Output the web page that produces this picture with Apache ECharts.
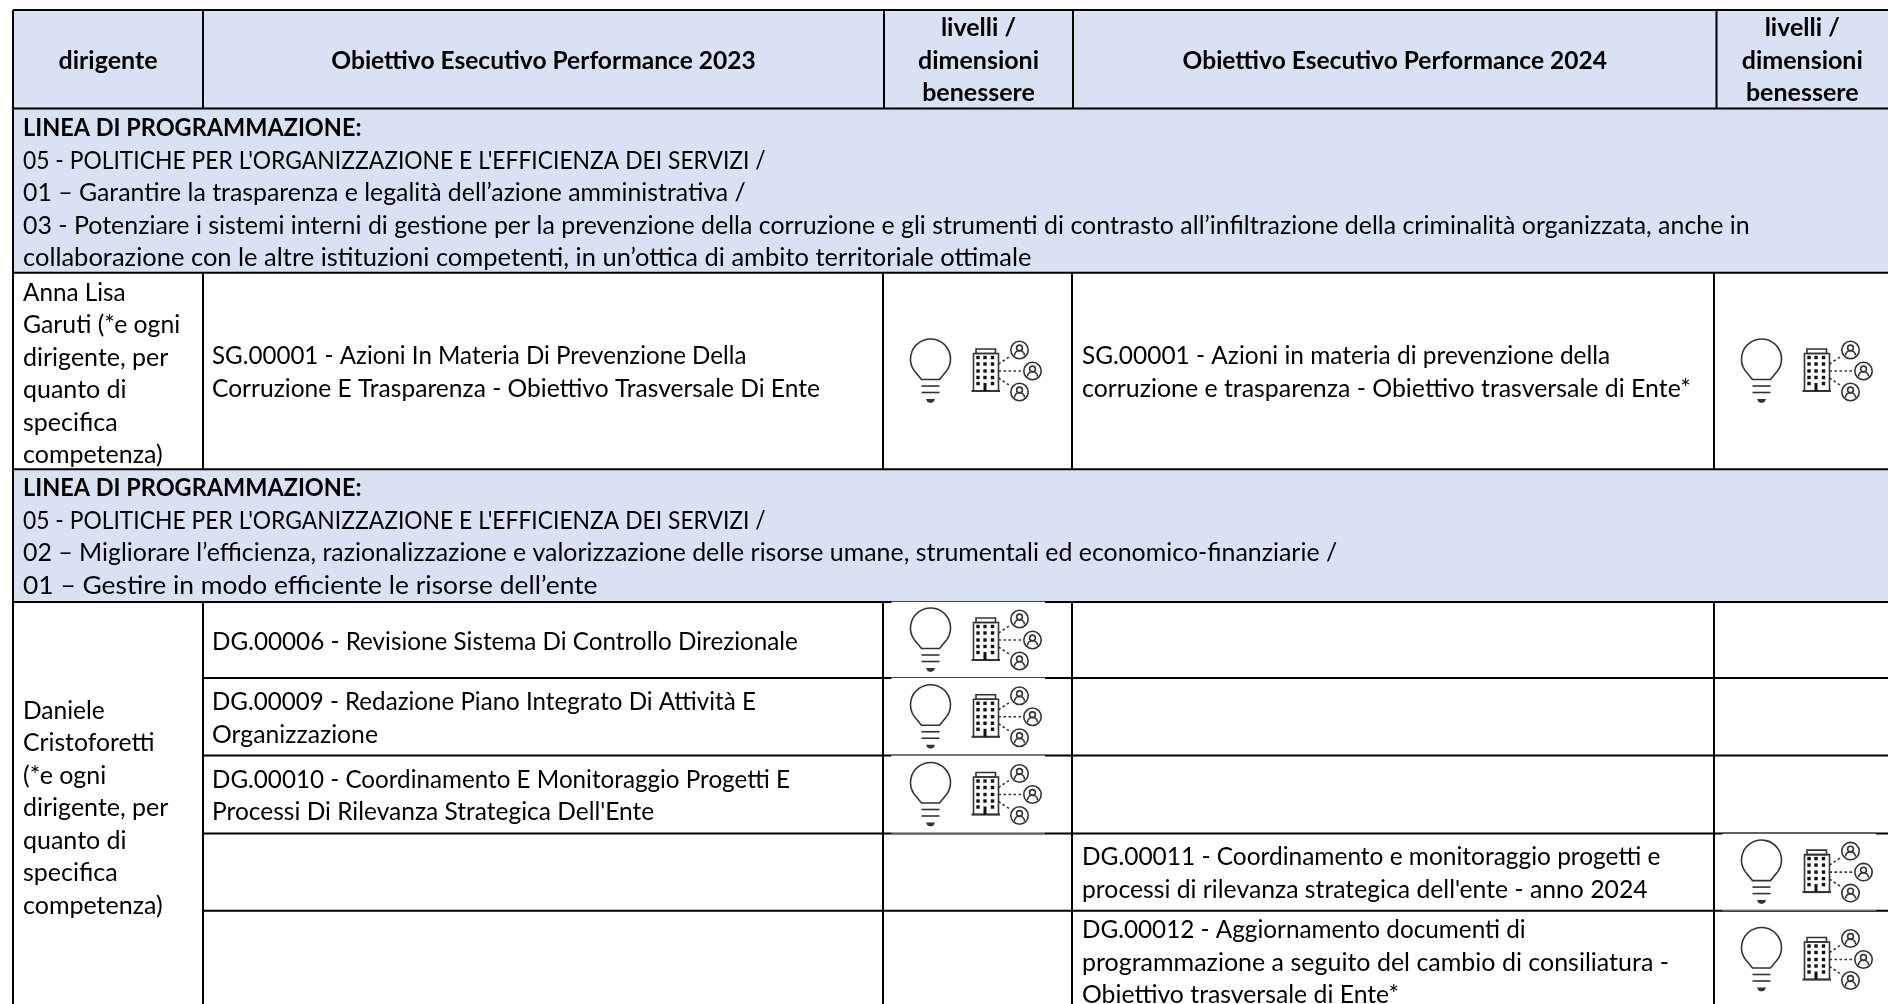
<!DOCTYPE html>
<html>
<head>
<meta charset="utf-8">
<title>Obiettivi Esecutivi Performance</title>
<style>
  html, body { margin: 0; padding: 0; background: #fff; }
  #chart { width: 1888px; height: 1004px; }
</style>
<script src="https://cdn.jsdelivr.net/npm/echarts@6/dist/echarts.min.js"></script>
</head>
<body>
<div id="chart"></div>
<script>
// Table content
const headerLabels = [
  'dirigente',
  'Obiettivo Esecutivo Performance 2023',
  'livelli /\ndimensioni\nbenessere',
  'Obiettivo Esecutivo Performance 2024',
  'livelli /\ndimensioni\nbenessere'
]
const sectionTitle = 'LINEA DI PROGRAMMAZIONE:'
const lineaProgrammazione1 = [
  "05 - POLITICHE PER L'ORGANIZZAZIONE E L'EFFICIENZA DEI SERVIZI /",
  '01 – Garantire la trasparenza e legalità dell’azione amministrativa /',
  '03 - Potenziare i sistemi interni di gestione per la prevenzione della corruzione e gli strumenti di contrasto all’infiltrazione della criminalità organizzata, anche in',
  'collaborazione con le altre istituzioni competenti, in un’ottica di ambito territoriale ottimale'
]
const lineaProgrammazione2 = [
  "05 - POLITICHE PER L'ORGANIZZAZIONE E L'EFFICIENZA DEI SERVIZI /",
  '02 – Migliorare l’efficienza, razionalizzazione e valorizzazione delle risorse umane, strumentali ed economico-finanziarie /',
  '01 – Gestire in modo efficiente le risorse dell’ente'
]
const dirigenti = [
  'Anna Lisa\nGaruti (*e ogni\ndirigente, per\nquanto di\nspecifica\ncompetenza)',
  'Daniele\nCristoforetti\n(*e ogni\ndirigente, per\nquanto di\nspecifica\ncompetenza)'
]
const obiettivi2023 = [
  'SG.00001 - Azioni In Materia Di Prevenzione Della\nCorruzione E Trasparenza - Obiettivo Trasversale Di Ente',
  'DG.00006 - Revisione Sistema Di Controllo Direzionale',
  'DG.00009 - Redazione Piano Integrato Di Attività E\nOrganizzazione',
  "DG.00010 - Coordinamento E Monitoraggio Progetti E\nProcessi Di Rilevanza Strategica Dell'Ente",
  '',
  ''
]
const obiettivi2024 = [
  'SG.00001 - Azioni in materia di prevenzione della\ncorruzione e trasparenza - Obiettivo trasversale di Ente*',
  '',
  '',
  '',
  "DG.00011 - Coordinamento e monitoraggio progetti e\nprocessi di rilevanza strategica dell'ente - anno 2024",
  'DG.00012 - Aggiornamento documenti di\nprogrammazione a seguito del cambio di consiliatura -\nObiettivo trasversale di Ente*'
]
const livelli2023 = [1, 1, 1, 1, 0, 0]
const livelli2024 = [1, 0, 0, 0, 1, 1]

// Table layout, in axis units
const headerCols = [13, 203, 884, 1073, 1716.5, 1890]
const bodyCols = [13, 203, 883, 1072, 1714, 1890]
const tableTop = 10
const headerBottom = 108.5
const band1Bottom = 272.7
const row1Bottom = 469.3
const band2Bottom = 602
const rowEdges = [602, 678, 755.5, 833.5, 910.7, 1012]
const lineStep = 32.5
const fontSize = 25

const ink = '#000'
const bandFill = '#d9e2f3'
const iconInk = '#333'
const fontFamily = 'Lato, sans-serif'

const rowSpans = [[band1Bottom, row1Bottom]]
for (let i = 0; i < rowEdges.length - 1; i++) rowSpans.push([rowEdges[i], rowEdges[i + 1]])

const fills = [
  [headerCols[0], tableTop, 1890, headerBottom],
  [headerCols[0], headerBottom, 1890, band1Bottom],
  [headerCols[0], row1Bottom, 1890, band2Bottom]
]

const borders = []
const hLine = (y, x0, x1) => borders.push([x0, y, x1, y])
const vLine = (x, y0, y1) => borders.push([x, y0, x, y1])
hLine(tableTop, 13, 1890)
hLine(headerBottom, 13, 1890)
hLine(band1Bottom, 13, 1890)
hLine(row1Bottom, 13, 1890)
hLine(band2Bottom, 13, 1890)
rowEdges.slice(1, -1).forEach(y => hLine(y, 203, 1890))
vLine(13, tableTop, 1012)
headerCols.slice(1, 5).forEach(x => vLine(x, tableTop, headerBottom))
bodyCols.slice(1, 5).forEach(x => {
  vLine(x, band1Bottom, row1Bottom)
  vLine(x, band2Bottom, 1012)
})

// Text blocks: x anchor, y of the first line or of the block middle
const texts = []
const block = (text, x, y, opts) => {
  if (text) texts.push(Object.assign({ text, x, y, align: 'left', bold: false, middle: false }, opts))
}
headerLabels.forEach((label, i) => {
  block(label, (headerCols[i] + headerCols[i + 1]) / 2 - (i === 4 ? 1 : 0), (tableTop + headerBottom) / 2 + 1.5, { align: 'center', bold: true, middle: true })
})
block(sectionTitle, 23, headerBottom + 19.5, { bold: true })
block(lineaProgrammazione1.join('\n'), 23, headerBottom + 19.5 + lineStep)
block(sectionTitle, 23, row1Bottom + 19, { bold: true })
block(lineaProgrammazione2.join('\n'), 23, row1Bottom + 19 + lineStep)
block(dirigenti[0], 23, band1Bottom + 20)
block(dirigenti[1], 23, (band2Bottom + 1014) / 2, { middle: true })
rowSpans.forEach((span, i) => {
  const mid = (span[0] + span[1]) / 2 + 1.5
  block(obiettivi2023[i], 212, mid, { middle: true })
  block(obiettivi2024[i], 1082, mid, { middle: true })
})

// Lato ligatures run short on these two lines
const ligatureStretch = {
  [lineaProgrammazione1[3]]: 1.02,
  [lineaProgrammazione2[2]]: 1.065
}

// Lato has wider capitals and digits than the reference face, so those lines get squeezed
function lineScale(line, bold) {
  let wide = 0
  let total = 0
  for (const ch of line) {
    if (/[A-Z0-9]/.test(ch)) { wide += 0.65; total += 0.65 }
    else if (ch === ' ') total += 0.2
    else total += 0.45
  }
  return (1 - (bold ? 0.065 : 0.095) * wide / total) * (ligatureStretch[line] || 1)
}

// Icon pairs sit 47px into the column; short rows get a white picture box over the rule
const icons = []
const tiles = []
const addIcons = (flags, colX) => {
  flags.forEach((on, i) => {
    if (!on) return
    const span = rowSpans[i]
    const tall = span[1] - span[0] > 90
    const mid = i === 5 ? 959.5 : (span[0] + span[1]) / 2
    icons.push([colX + 47.5, mid])
    if (!tall) tiles.push([colX + 8.5, span[0], colX + 162, span[1]])
  })
}
addIcons(livelli2023, bodyCols[2])
addIcons(livelli2024, bodyCols[4])

const deg = d => d * Math.PI / 180

function iconChildren() {
  const stroke = { stroke: iconInk, fill: null, lineWidth: 1.6 }
  const solid = { fill: '#111', stroke: null }
  const kids = []
  const seg = (x1, y1, x2, y2, style) => kids.push({ type: 'line', shape: { x1, y1, x2, y2 }, style: Object.assign({}, stroke, style) })
  // bulb
  kids.push({ type: 'arc', shape: { cx: 0, cy: -12, r: 20, startAngle: deg(145), endAngle: deg(35), clockwise: true }, style: stroke })
  kids.push({ type: 'polyline', shape: { points: [[-16.4, -0.5], [-9, 8.5], [9, 8.5], [16.4, -0.5]] }, style: stroke })
  seg(-9, 15, 9, 15)
  seg(-9, 21.5, 9, 21.5)
  kids.push({ type: 'polygon', shape: { points: [[-4.5, 28], [4.5, 28], [3, 31], [0, 32], [-3, 31]] }, style: { fill: iconInk, stroke: null } })
  // building
  kids.push({ type: 'rect', shape: { x: 43, y: -17.5, width: 25, height: 37.5 }, style: stroke })
  kids.push({ type: 'rect', shape: { x: 45.5, y: -22, width: 19.5, height: 4.5 }, style: stroke })
  seg(41, 20, 69.5, 20, { lineWidth: 2 })
  const winX = [47.5, 54.5, 62]
  const winY = [-13.5, -7, 0, 6.5, 12.5]
  winY.forEach((wy, r) => winX.forEach((wx, c) => {
    if (r === 4 && c === 1) return
    kids.push({ type: 'rect', shape: { x: wx - 1.7, y: wy - 1.7, width: 3.4, height: 3.4 }, style: solid })
  }))
  kids.push({ type: 'rect', shape: { x: 53, y: 12, width: 3, height: 8 }, style: solid })
  // dotted links
  const dots = { lineDash: [2.5, 2.5] }
  seg(68, -7, 80, -15, dots)
  seg(68, 0, 93, 0, dots)
  seg(68, 7, 80, 15, dots)
  // people
  ;[[89, -21], [102, 0], [89, 21]].forEach(p => {
    kids.push({ type: 'circle', shape: { cx: p[0], cy: p[1], r: 8.7 }, style: stroke })
    kids.push({ type: 'circle', shape: { cx: p[0], cy: p[1] - 2, r: 2.9 }, style: stroke })
    kids.push({ type: 'arc', shape: { cx: p[0], cy: p[1] + 5.5, r: 5, startAngle: deg(180), endAngle: deg(0), clockwise: true }, style: stroke })
  })
  return kids
}

function customSeries(name, items, draw) {
  return {
    name,
    type: 'custom',
    coordinateSystem: 'cartesian2d',
    clip: false,
    silent: true,
    animation: false,
    data: items.map(() => [0, 0]),
    renderItem: (params, api) => draw(items[params.dataIndex], api)
  }
}

const chart = echarts.init(document.getElementById('chart'), null, { renderer: 'canvas' })

chart.setOption({
  animation: false,
  tooltip: { show: false },
  grid: { left: 0, right: 0, top: 0, bottom: 0 },
  xAxis: { type: 'value', min: 0, max: 1888, show: false },
  yAxis: { type: 'value', min: 0, max: 1004, inverse: true, show: false },
  series: [
    customSeries('fills', fills, (r, api) => {
      const a = api.coord([r[0], r[1]])
      const b = api.coord([r[2], r[3]])
      return { type: 'rect', shape: { x: a[0], y: a[1], width: b[0] - a[0], height: b[1] - a[1] }, style: { fill: bandFill } }
    }),
    customSeries('borders', borders, (l, api) => {
      const a = api.coord([l[0], l[1]])
      const b = api.coord([l[2], l[3]])
      return { type: 'line', shape: { x1: a[0], y1: a[1], x2: b[0], y2: b[1] }, style: { stroke: ink, lineWidth: 2 } }
    }),
    customSeries('tiles', tiles, (r, api) => {
      const a = api.coord([r[0], r[1]])
      const b = api.coord([r[2], r[3]])
      return {
        type: 'group',
        children: [
          { type: 'rect', shape: { x: a[0], y: a[1], width: b[0] - a[0], height: b[1] - a[1] }, style: { fill: '#fff' } },
          { type: 'line', shape: { x1: a[0], y1: a[1] - 0.5, x2: b[0], y2: a[1] - 0.5 }, style: { stroke: '#444', lineWidth: 1 } },
          { type: 'line', shape: { x1: a[0], y1: b[1] - 0.5, x2: b[0], y2: b[1] - 0.5 }, style: { stroke: '#444', lineWidth: 1 } }
        ]
      }
    }),
    customSeries('icons', icons, (p, api) => {
      const c = api.coord(p)
      return { type: 'group', x: c[0], y: c[1], children: iconChildren() }
    }),
    customSeries('text', texts, (t, api) => {
      const lines = t.text.split('\n')
      const first = t.middle ? t.y - (lines.length - 1) * lineStep / 2 : t.y
      return {
        type: 'group',
        children: lines.map((line, i) => {
          const c = api.coord([t.x, first + i * lineStep])
          return {
            type: 'text',
            x: c[0],
            y: c[1],
            scaleX: lineScale(line, t.bold),
            style: {
              text: line,
              fill: ink,
              font: `${t.bold ? 'bold ' : ''}${fontSize}px ${fontFamily}`,
              align: t.align,
              verticalAlign: 'middle'
            }
          }
        })
      }
    })
  ]
})
</script>
</body>
</html>
